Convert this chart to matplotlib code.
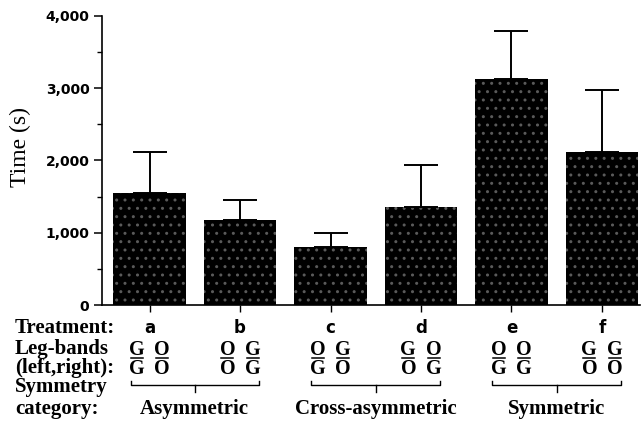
import matplotlib
matplotlib.use("Agg")
import matplotlib.pyplot as plt
from matplotlib.lines import Line2D
from matplotlib.transforms import blended_transform_factory
from matplotlib.ticker import MultipleLocator, FuncFormatter

treatments = ["a", "b", "c", "d", "e", "f"]
means = [1550, 1175, 800, 1355, 3125, 2115]
errors = [565, 280, 195, 580, 665, 860]
leg_top = [("G", "O"), ("O", "G"), ("O", "G"), ("G", "O"), ("O", "O"), ("G", "G")]
leg_bottom = [("G", "O"), ("O", "G"), ("G", "O"), ("O", "G"), ("G", "G"), ("O", "O")]
categories = ["Asymmetric", "Cross-asymmetric", "Symmetric"]
category_groups = [(0, 1), (2, 3), (4, 5)]

W, H = 641, 423
fig = plt.figure(figsize=(W / 100, H / 100), dpi=100)
ax = fig.add_axes([102 / W, 1 - 305 / H, (640 - 102) / W, (305 - 16) / H])

x = list(range(len(treatments)))
ax.bar(x, means, width=0.8, color="black", edgecolor="#5a5a5a", linewidth=0,
       hatch="..", zorder=2)
ax.errorbar(x, means, yerr=[[0] * len(errors), errors], fmt="none",
            ecolor="black", elinewidth=1.4, capsize=12.5, capthick=1.4, zorder=3)

ax.set_xlim(-0.525, 5.42)
ax.set_ylim(0, 4000)
for s in ["top", "right"]:
    ax.spines[s].set_visible(False)
for s in ["left", "bottom"]:
    ax.spines[s].set_linewidth(1.2)

ax.yaxis.set_major_locator(MultipleLocator(1000))
ax.yaxis.set_minor_locator(MultipleLocator(500))
ax.yaxis.set_major_formatter(FuncFormatter(lambda v, p: f"{int(v):,}"))
ax.tick_params(axis="y", which="major", direction="out", length=6, width=1.1,
               labelsize=10, pad=3)
ax.tick_params(axis="y", which="minor", direction="out", length=3.5, width=1.0)
for lab in ax.get_yticklabels():
    lab.set_fontweight("bold")
ax.set_xticks(x)
ax.set_xticklabels([])
ax.tick_params(axis="x", direction="out", length=5, width=1.0)

fig.text(20 / W, 1 - 147 / H, "Time (s)", rotation=90, ha="center", va="center",
         fontsize=17, family="Liberation Serif")

def fy(py):
    return 1 - py / H

tr = blended_transform_factory(ax.transData, fig.transFigure)
serif_b = dict(family="Liberation Serif", fontweight="bold", fontsize=15)
leg_b = dict(family="Liberation Serif", fontweight="bold", fontsize=14.5)

row_labels = [("Treatment:", 333), ("Leg-bands", 354), ("(left,right):", 373),
              ("Symmetry", 392), ("category:", 414)]
for txt, py in row_labels:
    fig.text(15 / W, fy(py), txt, ha="left", va="baseline", **serif_b)

for i, t in enumerate(treatments):
    ax.text(i, fy(333), t, transform=tr, ha="center", va="baseline",
            fontsize=12, fontweight="bold", family="DejaVu Sans", clip_on=False)
    for j, dx in enumerate((-0.14, 0.14)):
        ax.text(i + dx, fy(355), leg_top[i][j], transform=tr, ha="center",
                va="baseline", clip_on=False, **leg_b)
        ax.text(i + dx, fy(373.5), leg_bottom[i][j], transform=tr, ha="center",
                va="baseline", clip_on=False, **leg_b)
        fig.add_artist(Line2D([i + dx - 0.065, i + dx + 0.065], [fy(358)] * 2,
                              transform=tr, color="black", lw=1.1))

for (g0, g1), name in zip(category_groups, categories):
    xl, xr = g0 - 0.21, g1 + 0.21
    xm = (g0 + g1) / 2
    fig.add_artist(Line2D([xl, xl, xr, xr], [fy(380.5), fy(384.5), fy(384.5), fy(380.5)],
                          transform=tr, color="black", lw=1.0))
    fig.add_artist(Line2D([xm, xm], [fy(384.5), fy(392)], transform=tr,
                          color="black", lw=1.0))
    ax.text(xm, fy(414), name, transform=tr, ha="center", va="baseline",
            clip_on=False, **serif_b)

fig.savefig("out.png", dpi=100)
